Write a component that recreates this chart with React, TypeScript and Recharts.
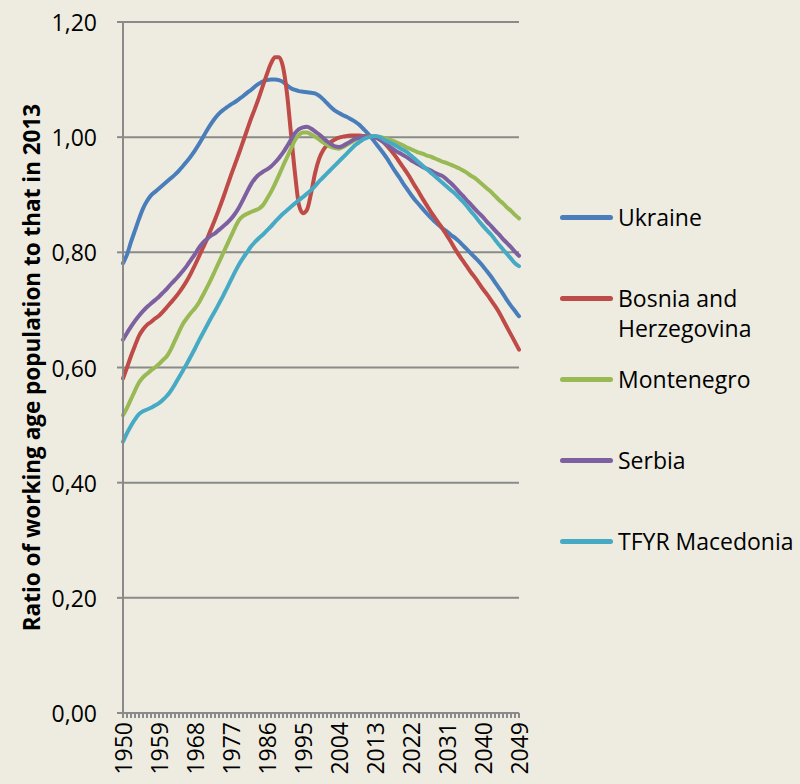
import { LineChart, Line, XAxis, YAxis, CartesianGrid, Label } from 'recharts';

const years = Array.from({ length: 100 }, (_, i) => 1950 + i);
const labelYears = [1950, 1959, 1968, 1977, 1986, 1995, 2004, 2013, 2022, 2031, 2040, 2049];
const yTicks = [0, 0.2, 0.4, 0.6, 0.8, 1.0, 1.2];

const ukraine = [
  0.781, 0.796, 0.818, 0.838, 0.858, 0.876, 0.889, 0.899, 0.905, 0.911,
  0.917, 0.923, 0.929, 0.935, 0.942, 0.950, 0.958, 0.967, 0.977, 0.988,
  1.000, 1.012, 1.023, 1.033, 1.041, 1.047, 1.052, 1.057, 1.061, 1.066,
  1.071, 1.077, 1.082, 1.088, 1.093, 1.097, 1.099, 1.100, 1.100, 1.099,
  1.096, 1.090, 1.085, 1.082, 1.080, 1.079, 1.078, 1.077, 1.076, 1.072,
  1.066, 1.059, 1.052, 1.046, 1.042, 1.038, 1.035, 1.031, 1.027, 1.022,
  1.015, 1.008, 1.000, 0.991, 0.982, 0.973, 0.963, 0.952, 0.941, 0.931,
  0.920, 0.910, 0.900, 0.891, 0.883, 0.875, 0.867, 0.860, 0.853, 0.847,
  0.841, 0.836, 0.830, 0.825, 0.819, 0.812, 0.805, 0.798, 0.791, 0.784,
  0.776, 0.767, 0.758, 0.748, 0.738, 0.728, 0.717, 0.707, 0.698, 0.689,
];

const bosnia = [
  0.581, 0.600, 0.620, 0.638, 0.655, 0.666, 0.674, 0.679, 0.685, 0.690,
  0.697, 0.705, 0.713, 0.721, 0.730, 0.740, 0.751, 0.764, 0.778, 0.793,
  0.808, 0.823, 0.840, 0.857, 0.875, 0.894, 0.914, 0.934, 0.953, 0.972,
  0.992, 1.012, 1.032, 1.050, 1.069, 1.090, 1.110, 1.128, 1.139, 1.139,
  1.122, 1.076, 1.006, 0.937, 0.882, 0.868, 0.874, 0.902, 0.937, 0.962,
  0.977, 0.986, 0.992, 0.996, 0.999, 1.001, 1.002, 1.003, 1.003, 1.003,
  1.002, 1.002, 1.001, 1.000, 0.997, 0.992, 0.985, 0.977, 0.968, 0.958,
  0.948, 0.938, 0.927, 0.915, 0.904, 0.892, 0.881, 0.870, 0.860, 0.850,
  0.840, 0.829, 0.818, 0.806, 0.795, 0.785, 0.775, 0.765, 0.756, 0.746,
  0.736, 0.727, 0.717, 0.707, 0.696, 0.683, 0.670, 0.657, 0.644, 0.631,
];

const montenegro = [
  0.517, 0.530, 0.545, 0.560, 0.574, 0.583, 0.589, 0.595, 0.600, 0.606,
  0.613, 0.620, 0.632, 0.647, 0.662, 0.676, 0.686, 0.695, 0.703, 0.713,
  0.726, 0.739, 0.753, 0.768, 0.783, 0.798, 0.813, 0.828, 0.843, 0.856,
  0.863, 0.867, 0.870, 0.873, 0.876, 0.882, 0.893, 0.905, 0.919, 0.934,
  0.950, 0.965, 0.980, 0.995, 1.004, 1.008, 1.008, 1.005, 1.001, 0.996,
  0.991, 0.987, 0.983, 0.981, 0.980, 0.983, 0.987, 0.991, 0.995, 0.998,
  1.000, 1.001, 1.001, 1.001, 1.000, 0.999, 0.997, 0.995, 0.992, 0.989,
  0.986, 0.982, 0.979, 0.976, 0.973, 0.971, 0.968, 0.966, 0.963, 0.960,
  0.957, 0.955, 0.952, 0.949, 0.946, 0.942, 0.938, 0.933, 0.929, 0.923,
  0.917, 0.911, 0.905, 0.898, 0.891, 0.885, 0.878, 0.872, 0.865, 0.859,
];

const serbia = [
  0.648, 0.660, 0.671, 0.681, 0.690, 0.698, 0.705, 0.711, 0.717, 0.723,
  0.730, 0.737, 0.745, 0.752, 0.760, 0.768, 0.777, 0.787, 0.797, 0.808,
  0.817, 0.823, 0.829, 0.833, 0.839, 0.845, 0.851, 0.858, 0.867, 0.878,
  0.891, 0.905, 0.918, 0.928, 0.935, 0.940, 0.944, 0.949, 0.956, 0.964,
  0.973, 0.984, 0.996, 1.007, 1.014, 1.017, 1.018, 1.015, 1.010, 1.005,
  0.999, 0.993, 0.988, 0.984, 0.983, 0.985, 0.989, 0.993, 0.997, 0.999,
  1.000, 1.001, 1.001, 1.000, 0.997, 0.992, 0.987, 0.982, 0.977, 0.973,
  0.969, 0.965, 0.960, 0.956, 0.952, 0.948, 0.945, 0.942, 0.938, 0.935,
  0.932, 0.926, 0.920, 0.913, 0.905, 0.898, 0.890, 0.883, 0.875, 0.868,
  0.861, 0.853, 0.846, 0.838, 0.831, 0.823, 0.816, 0.809, 0.801, 0.794,
];

const macedonia = [
  0.471, 0.486, 0.499, 0.510, 0.519, 0.524, 0.527, 0.530, 0.534, 0.538,
  0.544, 0.551, 0.560, 0.571, 0.583, 0.595, 0.607, 0.620, 0.633, 0.647,
  0.660, 0.673, 0.686, 0.698, 0.711, 0.724, 0.738, 0.752, 0.766, 0.779,
  0.790, 0.800, 0.810, 0.818, 0.825, 0.831, 0.838, 0.845, 0.853, 0.860,
  0.867, 0.873, 0.879, 0.885, 0.891, 0.896, 0.902, 0.908, 0.915, 0.923,
  0.930, 0.937, 0.944, 0.951, 0.958, 0.965, 0.972, 0.979, 0.986, 0.991,
  0.996, 0.999, 1.001, 1.002, 1.001, 0.997, 0.993, 0.990, 0.986, 0.982,
  0.978, 0.974, 0.968, 0.962, 0.956, 0.950, 0.944, 0.938, 0.932, 0.926,
  0.920, 0.914, 0.908, 0.902, 0.895, 0.888, 0.880, 0.871, 0.863, 0.854,
  0.846, 0.838, 0.831, 0.822, 0.813, 0.805, 0.797, 0.789, 0.781, 0.776,
];

const seriesKeys = ['ukraine', 'bosnia', 'montenegro', 'serbia', 'macedonia'];
const seriesNames = ['Ukraine', 'Bosnia and Herzegovina', 'Montenegro', 'Serbia', 'TFYR Macedonia'];
const seriesColors = ['#4A7EBB', '#BE4B48', '#98B954', '#7D60A0', '#46AAC5'];

const data = years.map((year, i) => ({
  year,
  ukraine: ukraine[i],
  bosnia: bosnia[i],
  montenegro: montenegro[i],
  serbia: serbia[i],
  macedonia: macedonia[i],
}));

const FONT = '"Open Sans", sans-serif';
const GRID = '#8a8a8a';

const XTick = ({ x, y, payload }: any) => {
  if (!labelYears.includes(payload.value)) return <g />;
  const ty = y + 2;
  return (
    <text
      x={x}
      y={ty}
      transform={`rotate(-90, ${x}, ${ty})`}
      textAnchor="end"
      dominantBaseline="central"
      fontFamily={FONT}
      fontSize={23}
      fill="#000"
    >
      {payload.value}
    </text>
  );
};

const YTick = ({ x, y, payload }: any) => (
  <text x={x} y={y} textAnchor="end" dominantBaseline="central" fontFamily={FONT} fontSize={23} fill="#000">
    {payload.value.toFixed(2).replace('.', ',')}
  </text>
);

const YTitle = ({ viewBox }: any) => {
  const cx = viewBox.x + 31;
  const cy = viewBox.y + viewBox.height / 2;
  return (
    <text
      x={cx}
      y={cy}
      transform={`rotate(-90, ${cx}, ${cy})`}
      textAnchor="middle"
      dominantBaseline="central"
      fontFamily={FONT}
      fontWeight="bold"
      fontSize={22.5}
      fill="#000"
    >
      Ratio of working age population to that in 2013
    </text>
  );
};

export default function App() {
  return (
    <div style={{ position: 'absolute', left: 0, top: 0, width: 800, height: 784, background: '#EEECE1' }}>
      <LineChart width={800} height={784} data={data} margin={{ top: 22, right: 281, bottom: 0, left: 0 }}>
        <CartesianGrid vertical={false} stroke={GRID} strokeWidth={2} />
        <XAxis
          dataKey="year"
          type="number"
          domain={[1950, 2049]}
          ticks={years}
          interval={0}
          tickSize={5}
          tickMargin={2}
          height={71}
          stroke={GRID}
          strokeWidth={2}
          tick={<XTick />}
        />
        <YAxis
          domain={[0, 1.2]}
          ticks={yTicks}
          interval={0}
          width={123}
          tickSize={6}
          tickMargin={20}
          stroke={GRID}
          strokeWidth={2}
          tick={<YTick />}
        >
          <Label content={<YTitle />} />
        </YAxis>
        {seriesKeys.map((k, i) => (
          <Line
            key={k}
            dataKey={k}
            name={seriesNames[i]}
            type="monotone"
            stroke={seriesColors[i]}
            strokeWidth={4}
            strokeLinecap="round"
            dot={false}
            isAnimationActive={false}
          />
        ))}
      </LineChart>
      <div style={{ position: 'absolute', left: 560, top: 202, width: 240, fontFamily: FONT, fontSize: 23, color: '#000' }}>
        {seriesNames.map((name, i) => (
          <div key={name} style={{ height: 81, display: 'flex', alignItems: 'flex-start' }}>
            <div style={{ width: 53, height: 5, borderRadius: 3, background: seriesColors[i], marginTop: 13, flex: 'none' }} />
            <div style={{ marginLeft: 5, lineHeight: '30px', width: 182 }}>{name}</div>
          </div>
        ))}
      </div>
    </div>
  );
}
